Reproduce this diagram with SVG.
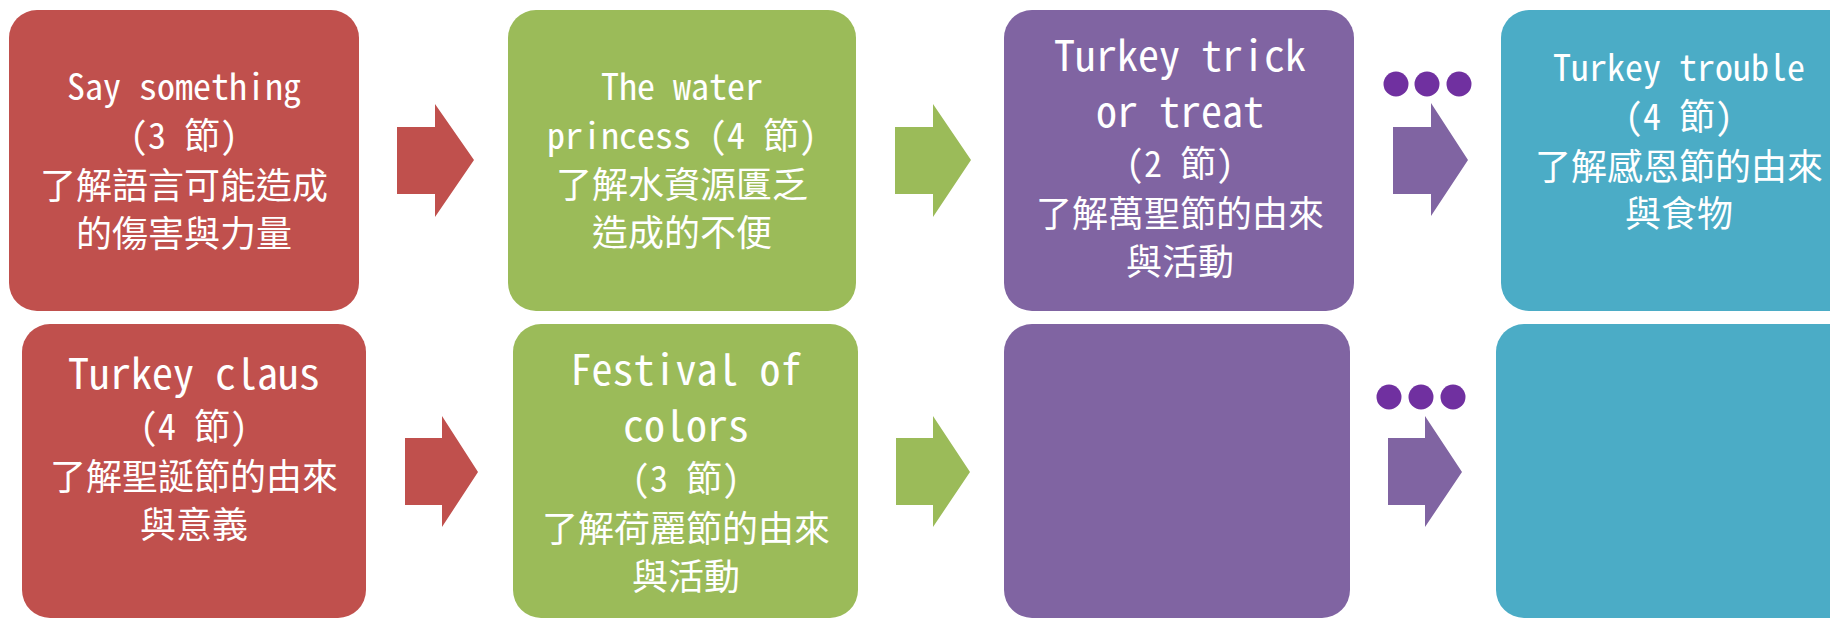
<svg xmlns="http://www.w3.org/2000/svg" width="1830" height="619" viewBox="0 0 1830 619">
<style>
  .red{fill:#C0504D}
  .green{fill:#9BBB59}
  .purple{fill:#8064A2}
  .teal{fill:#4BACC6}
  .dot{fill:#7030A0}
  text{fill:#FFFFFF;font-family:"Noto Sans Mono CJK TC","Noto Sans CJK TC","Liberation Mono",monospace;font-size:36px;text-anchor:middle}
  .big{font-size:42px}
</style>
<rect width="1830" height="619" fill="#FFFFFF"/>
<g id="connectors">
  <polygon class="red" points="397,127 435,127 435,104 474,160 435,217 435,194 397,194"/>
  <polygon class="green" points="895,127 933,127 933,104 971,160 933,217 933,194 895,194"/>
  <polygon class="purple" points="1393,127 1431,127 1431,103 1468,160 1431,216 1431,194 1393,194"/>
  <polygon class="red" points="405,438 442,438 442,416 478,472 442,527 442,505 405,505"/>
  <polygon class="green" points="896,438 933,438 933,416 970,472 933,527 933,505 896,505"/>
  <polygon class="purple" points="1388,438 1425,438 1425,416 1462,472 1425,527 1425,505 1388,505"/>
  <g id="dots1">
    <circle class="dot" cx="1396" cy="84" r="12.5"/>
    <circle class="dot" cx="1427" cy="84" r="12.5"/>
    <circle class="dot" cx="1459" cy="84" r="12.5"/>
  </g>
  <g id="dots2">
    <ellipse class="dot" cx="1389" cy="397" rx="12.5" ry="12.5"/>
    <ellipse class="dot" cx="1421" cy="397" rx="12.5" ry="12.5"/>
    <ellipse class="dot" cx="1453" cy="397" rx="12.5" ry="12.5"/>
  </g>
</g>
<g id="node-say-something">
  <rect class="red" x="9" y="10" width="350" height="301" rx="28"/>
  <text x="184" y="100">Say something</text>
  <text x="184" y="149">(3 節)</text>
  <text x="184" y="199">了解語言可能造成</text>
  <text x="184" y="247">的傷害與力量</text>
</g>
<g id="node-water-princess">
  <rect class="green" x="508" y="10" width="348" height="301" rx="28"/>
  <text x="682" y="100">The water</text>
  <text x="682" y="149">princess (4 節)</text>
  <text x="682" y="198">了解水資源匱乏</text>
  <text x="682" y="246">造成的不便</text>
</g>
<g id="node-trick-or-treat">
  <rect class="purple" x="1004" y="10" width="350" height="301" rx="28"/>
  <text class="big" x="1180" y="71">Turkey trick</text>
  <text class="big" x="1180" y="127">or treat</text>
  <text x="1180" y="177">(2 節)</text>
  <text x="1180" y="227">了解萬聖節的由來</text>
  <text x="1180" y="275">與活動</text>
</g>
<g id="node-turkey-trouble">
  <rect class="teal" x="1501" y="10" width="360" height="301" rx="28"/>
  <text x="1679" y="81">Turkey trouble</text>
  <text x="1679" y="130">(4 節)</text>
  <text x="1679" y="180">了解感恩節的由來</text>
  <text x="1679" y="227">與食物</text>
</g>
<g id="node-turkey-claus">
  <rect class="red" x="22" y="324" width="344" height="294" rx="28"/>
  <text class="big" x="194" y="389">Turkey claus</text>
  <text x="194" y="440">(4 節)</text>
  <text x="194" y="490">了解聖誕節的由來</text>
  <text x="194" y="538">與意義</text>
</g>
<g id="node-festival-of-colors">
  <rect class="green" x="513" y="324" width="345" height="294" rx="28"/>
  <text class="big" x="686" y="385">Festival of</text>
  <text class="big" x="686" y="441">colors</text>
  <text x="686" y="492">(3 節)</text>
  <text x="686" y="542">了解荷麗節的由來</text>
  <text x="686" y="590">與活動</text>
</g>
<g id="node-empty-purple">
  <rect class="purple" x="1004" y="324" width="346" height="294" rx="28"/>
</g>
<g id="node-empty-teal">
  <rect class="teal" x="1496" y="324" width="365" height="294" rx="28"/>
</g>
</svg>
